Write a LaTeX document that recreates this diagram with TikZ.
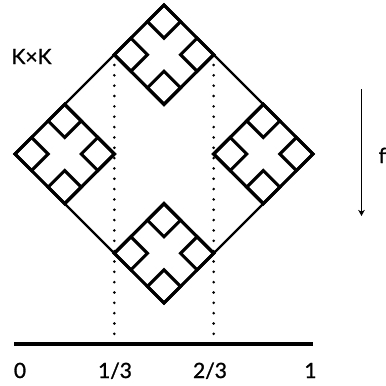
\documentclass[tikz,border=0pt]{standalone}
\usepackage{fontspec}
\setmainfont{Lato}
\newfontfamily\labelfont[FakeBold=1.2]{Lato}
\usetikzlibrary{arrows.meta}
\begin{document}
\begin{tikzpicture}[x=1pt,y=-1pt,
  lbl/.style={inner sep=0pt, font=\labelfont\fontsize{21}{21}\selectfont},
  outline/.style={line width=2.2pt, line join=miter},
  cell/.style={line width=3.1pt, line join=miter},
  guide/.style={line width=2.9pt, line cap=round, dash pattern=on 0pt off 10.34pt},
  axis/.style={line width=3.8pt},
  map/.style={line width=1.4pt, -{Stealth[length=6pt,width=6.5pt,inset=1.5pt]}}]
\useasboundingbox (0,0) rectangle (386,386);

% K x K drawn in the unit square, turned by 45 degrees
\begin{scope}[shift={(15,154)}, x={(149pt,149pt)}, y={(149pt,-149pt)}]
  \draw[outline] (0,0) -- (1,0) -- (1,1) -- (0,1) -- cycle;
  \foreach \a in {0,2/3} {
    \foreach \b in {0,2/3} {
      \draw[cell] (\a,\b) -- ++(1/3,0) -- ++(0,1/3) -- ++(-1/3,0) -- cycle;
      \foreach \c in {0,2/9} {
        \foreach \d in {0,2/9} {
          \draw[cell] (\a+\c,\b+\d) -- ++(1/9,0) -- ++(0,1/9) -- ++(-1/9,0) -- cycle;
        }
      }
    }
  }
  \coordinate (p13) at (2/3,0);
  \coordinate (p23) at (1,1/3);
\end{scope}

% unit interval
\coordinate (base) at (0,334);
\coordinate (x0) at (14,344);
\coordinate (x1) at (313,344);
\draw[axis] (x0) -- (x1);

% projections onto the interval
\draw[guide] (p13) -- (p13 |- base);
\draw[guide] (p23) -- (p23 |- base);

% labels
\node[lbl, anchor=base] (t0) at (20,378) {0};
\node[lbl, anchor=base] (t13) at (115,378) {1/3};
\node[lbl, anchor=base] (t23) at (210,378) {2/3};
\node[lbl, anchor=base] (t1) at (310.5,378) {1};
\node[lbl, anchor=base] (kk) at (31.5,64) {K×K};

% the map f
\coordinate (ftop) at (361.5,89);
\coordinate (fbot) at (361.5,216);
\draw[map] (ftop) -- (fbot);
\node[lbl, anchor=base west] (f) at (378.5,163) {f};
\end{tikzpicture}
\end{document}
